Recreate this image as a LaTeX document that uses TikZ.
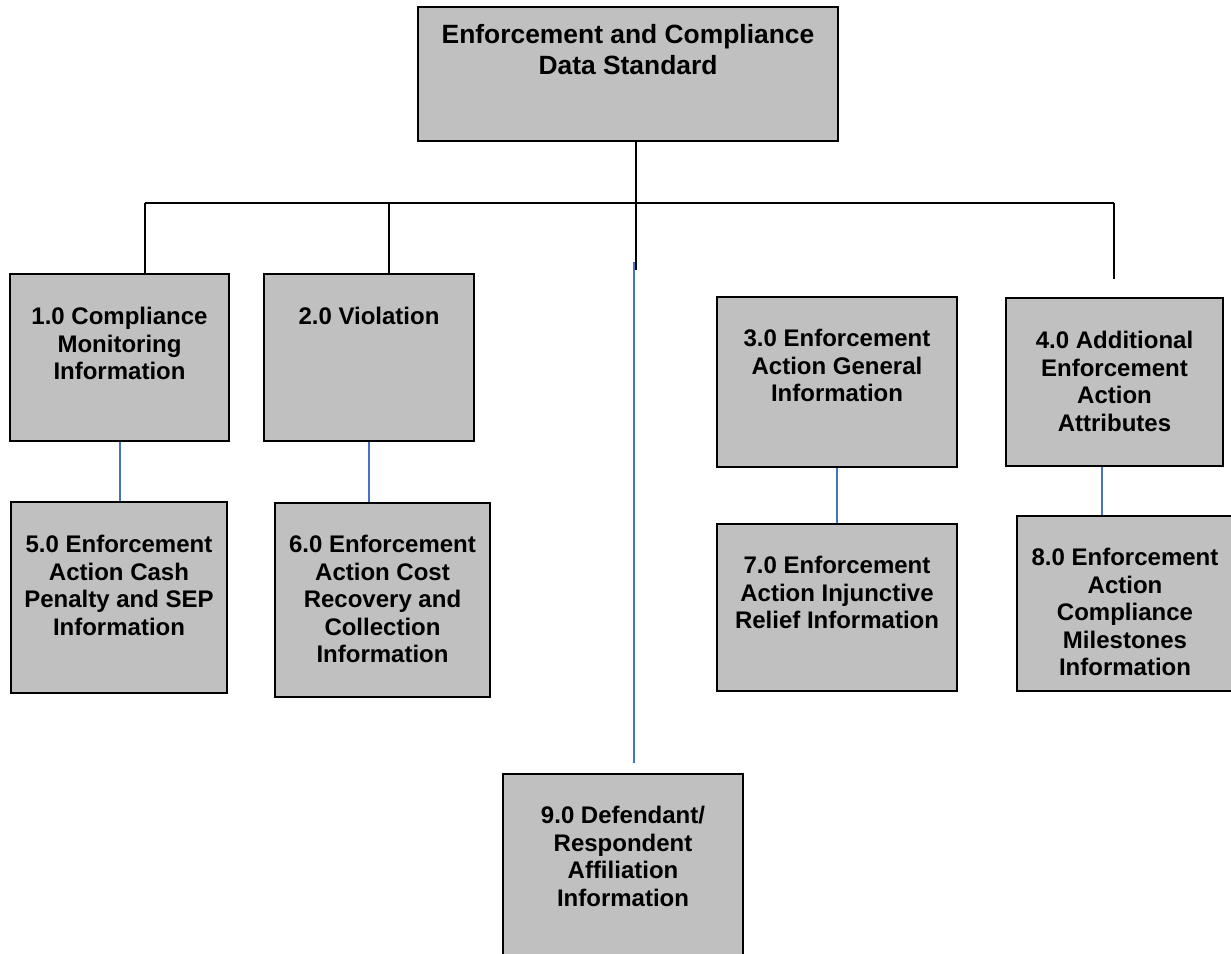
\documentclass[tikz,border=0pt]{standalone}
\usepackage{fontspec}
\setmainfont{Liberation Sans}
\usetikzlibrary{fit}
\definecolor{boxgray}{RGB}{192,192,192}
\definecolor{tieblue}{RGB}{68,114,196}
\begin{document}
\begin{tikzpicture}[
  x=0.5pt, y=-0.5pt,
  box/.style={rectangle, draw, line width=1pt, fill=boxgray, inner sep=0pt},
  box_txt/.style={anchor=north, align=center, inner sep=0pt,
                  font=\bfseries\fontsize{12}{13.75}\selectfont},
  head_txt/.style={box_txt, font=\bfseries\fontsize{13.2}{15.6}\selectfont},
  link/.style={line width=1pt},
  tie/.style={line width=0.75pt, draw=tieblue},
]
  \useasboundingbox (0,0) rectangle (1231,953);

  % Standard at top
  \node[box, fit={(418,7) (838,141)}] (std) {};
  \node[head_txt] (std_t) at ([yshift=-9pt]std.north) {Enforcement and Compliance\\Data Standard};

  % First row
  \node[box, fit={(10,274) (229,441)}] (monit) {};
  \node[box, fit={(264,274) (474,441)}] (viol) {};
  \node[box, fit={(717,297) (957,467)}] (gen) {};
  \node[box, fit={(1006,298) (1223,466)}] (addl) {};

  % Second row
  \node[box, fit={(11,502) (227,693)}] (cash) {};
  \node[box, fit={(275,503) (490,697)}] (cost) {};
  \node[box, fit={(717,524) (957,691)}] (inj) {};
  \node[box, fit={(1017,516) (1233,691)}] (miles) {};

  % Affiliation at bottom
  \node[box, fit={(503,774) (743,956)}] (defend) {};

  % Texts, top aligned
  \node[box_txt] (monit_t) at ([yshift=-17pt]monit.north) {1.0 Compliance\\Monitoring\\Information};
  \node[box_txt] (viol_t) at ([yshift=-17pt]viol.north) {2.0 Violation};
  \node[box_txt] (gen_t) at ([yshift=-16.5pt]gen.north) {3.0 Enforcement\\Action General\\Information};
  \node[box_txt] (addl_t) at ([yshift=-17pt]addl.north) {4.0 Additional\\Enforcement\\Action\\Attributes};
  \node[box_txt] (cash_t) at ([yshift=-17pt]cash.north) {5.0 Enforcement\\Action Cash\\Penalty and SEP\\Information};
  \node[box_txt] (cost_t) at ([yshift=-16.5pt]cost.north) {6.0 Enforcement\\Action Cost\\Recovery and\\Collection\\Information};
  \node[box_txt] (inj_t) at ([yshift=-16.5pt]inj.north) {7.0 Enforcement\\Action Injunctive\\Relief Information};
  \node[box_txt] (miles_t) at ([yshift=-16.5pt]miles.north) {8.0 Enforcement\\Action\\Compliance\\Milestones\\Information};
  \node[box_txt] (defend_t) at ([yshift=-16.5pt]defend.north) {9.0 Defendant/\\Respondent\\Affiliation\\Information};

  % Bus under the standard
  \coordinate (bus_l) at (145,203);
  \coordinate (bus_r) at (1114,203);
  \coordinate (stem_end) at (636,270);
  \coordinate (addl_end) at (1114,279);
  \draw[link] ([xshift=4pt]std.south) -- (stem_end);
  \draw[link] (bus_l) -- (bus_r);
  \draw[link] (bus_l) -- (bus_l |- monit.north);
  \draw[link] (389,203) coordinate (viol_top) -- (viol_top |- viol.north);
  \draw[link] (bus_r) -- (addl_end);

  % Blue ties
  \coordinate (drop_top) at (634,262);
  \draw[tie] (drop_top) -- ([yshift=5pt]drop_top |- defend.north);
  \draw[tie] ([xshift=0.25pt]monit.south) -- ([xshift=0.25pt]monit.south |- cash.north);
  \foreach \u/\l in {viol/cost, gen/inj}
    \draw[tie] (\u.south) -- (\u.south |- \l.north);
  \draw[tie] ([xshift=-6.25pt]addl.south) -- ([xshift=-6.25pt]addl.south |- miles.north);
\end{tikzpicture}
\end{document}
